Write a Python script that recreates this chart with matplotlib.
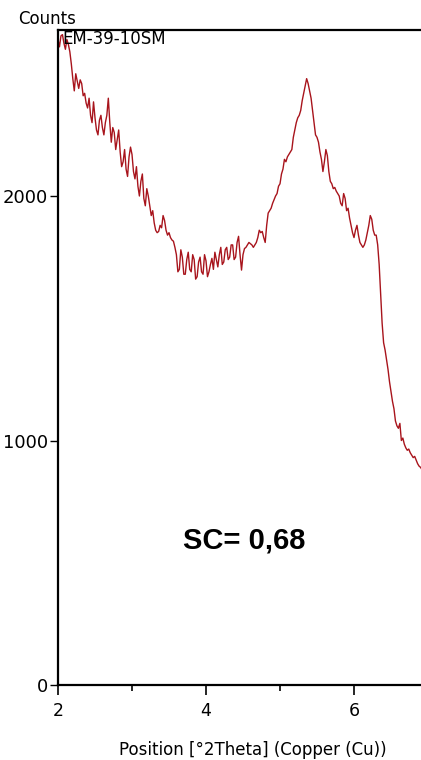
import numpy as np
import matplotlib
matplotlib.use('Agg')
import matplotlib.pyplot as plt

# counts, one value every 0.02 deg 2theta starting at 2.00
counts = [
    2640, 2610, 2655, 2660, 2625, 2600, 2640, 2620, 2590, 2540,
    2480, 2430, 2500, 2470, 2440, 2475, 2460, 2410, 2420, 2380,
    2360, 2400, 2330, 2300, 2385, 2320, 2270, 2250, 2310, 2330,
    2280, 2250, 2300, 2330, 2400, 2300, 2220, 2280, 2260, 2190,
    2230, 2270, 2180, 2120, 2140, 2190, 2110, 2080, 2160, 2200,
    2170, 2100, 2070, 2120, 2040, 2000, 2060, 2090, 1990, 1960,
    2030, 2000, 1960, 1920, 1940, 1890, 1860, 1850, 1855, 1880,
    1870, 1920, 1900, 1860, 1840, 1850, 1830, 1820, 1815, 1790,
    1760, 1690, 1700, 1780, 1750, 1680, 1680, 1740, 1770, 1700,
    1690, 1760, 1740, 1660, 1670, 1730, 1750, 1690, 1680, 1760,
    1735, 1670, 1690, 1720, 1745, 1700, 1770, 1740, 1710, 1760,
    1790, 1720, 1730, 1780, 1790, 1740, 1750, 1800, 1800, 1740,
    1750, 1810, 1835, 1760, 1697, 1760, 1785, 1790, 1800, 1810,
    1805, 1800, 1790, 1800, 1810, 1830, 1860, 1850, 1855, 1830,
    1810, 1880, 1930, 1940, 1950, 1970, 1985, 2000, 2010, 2040,
    2050, 2090, 2110, 2150, 2140, 2160, 2170, 2180, 2190, 2240,
    2270, 2300, 2320, 2330, 2350, 2390, 2420, 2450, 2480, 2460,
    2430, 2400, 2350, 2300, 2250, 2240, 2220, 2180, 2150, 2100,
    2140, 2190, 2165, 2100, 2060, 2050, 2030, 2035, 2020, 2010,
    2000, 1970, 1960, 2010, 1990, 1940, 1950, 1910, 1880, 1850,
    1830, 1860, 1880, 1840, 1810, 1800, 1790, 1800, 1820, 1850,
    1880, 1920, 1905, 1860, 1840, 1840, 1800, 1720, 1600, 1480,
    1400, 1370, 1330, 1290, 1240, 1200, 1160, 1130, 1080, 1060,
    1050, 1070, 1000, 1010, 985, 970, 960, 965, 950, 940,
    930, 935, 920, 905, 895, 890, 880,
]
two_theta = np.round(2.0 + 0.02 * np.arange(len(counts)), 2)

fig = plt.figure(figsize=(4.21, 7.6), dpi=100)
W, H = 421, 760
ax = fig.add_axes([58 / W, (H - 685) / H, (W - 58) / W, (685 - 30) / H])

ax.plot(two_theta, counts, color='#a8141c', lw=1.0)

ax.set_xlim(2, 2 + 363 / 74)
ax.set_ylim(0, 655 / 0.2445)

ax.spines['right'].set_visible(False)
for s in ['left', 'top', 'bottom']:
    ax.spines[s].set_linewidth(1.6)

ax.set_xticks([2, 4, 6])
ax.set_xticks([3, 5], minor=True)
ax.set_yticks([0, 1000, 2000])
ax.tick_params(axis='x', which='major', length=7, width=1.2, pad=5, labelsize=12.5)
ax.tick_params(axis='x', which='minor', length=4, width=1.2)
ax.tick_params(axis='y', length=6, width=1.0, pad=1, labelsize=13)

fig.text(18 / W, 1 - 24 / H, 'Counts', fontsize=12, va='baseline', ha='left')
fig.text(62 / W, 1 - 44 / H, 'EM-39-10SM', fontsize=12, va='baseline', ha='left')
fig.text(253 / W, 1 - 755 / H, 'Position [°2Theta] (Copper (Cu))', fontsize=12,
         va='baseline', ha='center')

ax.text(4.51, 590, 'SC= 0,68', fontsize=21, fontweight='bold',
        family='Liberation Sans', ha='center', va='center')

fig.savefig('out.png', dpi=100)
